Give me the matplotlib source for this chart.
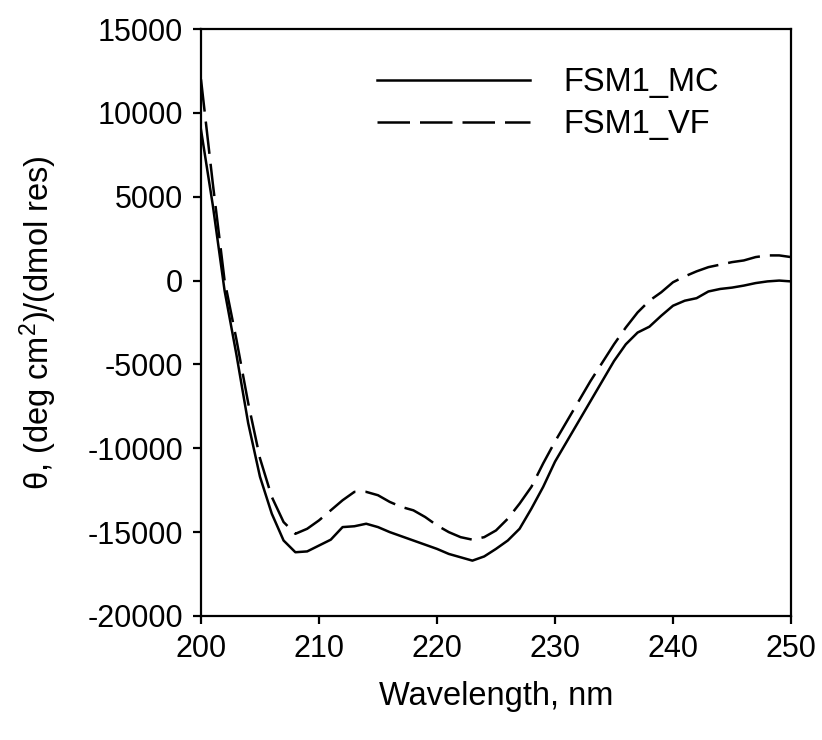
import numpy as np
import matplotlib
import matplotlib.pyplot as plt
matplotlib.use('Agg')

# CD spectra, 1 nm steps
wavelength = list(range(200, 251))

fsm1_mc = [9000, 4500, -600, -4400, -8500, -11700, -13900, -15500, -16200, -16150,
           -15800, -15450, -14700, -14650, -14500, -14700, -15000, -15250, -15500, -15750,
           -16000, -16300, -16500, -16700, -16450, -16000, -15500, -14800, -13600, -12300,
           -10800, -9600, -8400, -7200, -6000, -4800, -3800, -3100, -2750, -2100,
           -1500, -1200, -1050, -650, -500, -420, -300, -150, -50, 0,
           -50]

fsm1_vf = [12000, 5800, 0, -3500, -7300, -10600, -12900, -14400, -15100, -14800,
           -14300, -13700, -13100, -12600, -12600, -12800, -13200, -13500, -13700, -14100,
           -14600, -15000, -15300, -15450, -15300, -14900, -14200, -13300, -12300, -10900,
           -9600, -8400, -7200, -6000, -4900, -3800, -2800, -1900, -1200, -700,
           -100, 250, 550, 800, 950, 1100, 1200, 1400, 1500, 1500,
           1400]

plt.rcParams['font.family'] = ['Liberation Sans', 'DejaVu Sans']
plt.rcParams['mathtext.fontset'] = 'custom'
plt.rcParams['mathtext.rm'] = 'Liberation Sans'
plt.rcParams['mathtext.it'] = 'Liberation Sans'
plt.rcParams['axes.unicode_minus'] = False

fig = plt.figure(figsize=(8.22, 7.40), dpi=100)
ax = fig.add_axes([0.2445, 0.1676, 0.7178, 0.7932])

ax.plot(wavelength, fsm1_mc, color='black', lw=1.8, label='FSM1_MC')
ax.plot(wavelength, fsm1_vf, color='black', lw=1.8, dashes=(13, 4), label='FSM1_VF')

ax.set_xlim(200, 250)
ax.set_ylim(-20000, 15000)
ax.set_xticks(np.arange(200, 251, 10))
ax.set_yticks(np.arange(-20000, 15001, 5000))

for sp in ax.spines.values():
    sp.set_linewidth(1.6)
ax.tick_params(direction='out', length=6, width=1.6, labelsize=22, pad=7)

ax.set_xlabel('Wavelength, nm', fontsize=23.5, labelpad=12)
ax.set_ylabel('θ, (deg cm$^{2}$)/(dmol res)', fontsize=23.5, labelpad=20)

ax.legend(frameon=False, fontsize=23.5, loc='upper left',
          bbox_to_anchor=(0.276, 0.957), handlelength=4.7,
          handletextpad=1.0, labelspacing=0.33, borderaxespad=0)

plt.savefig('out.png', dpi=100)
